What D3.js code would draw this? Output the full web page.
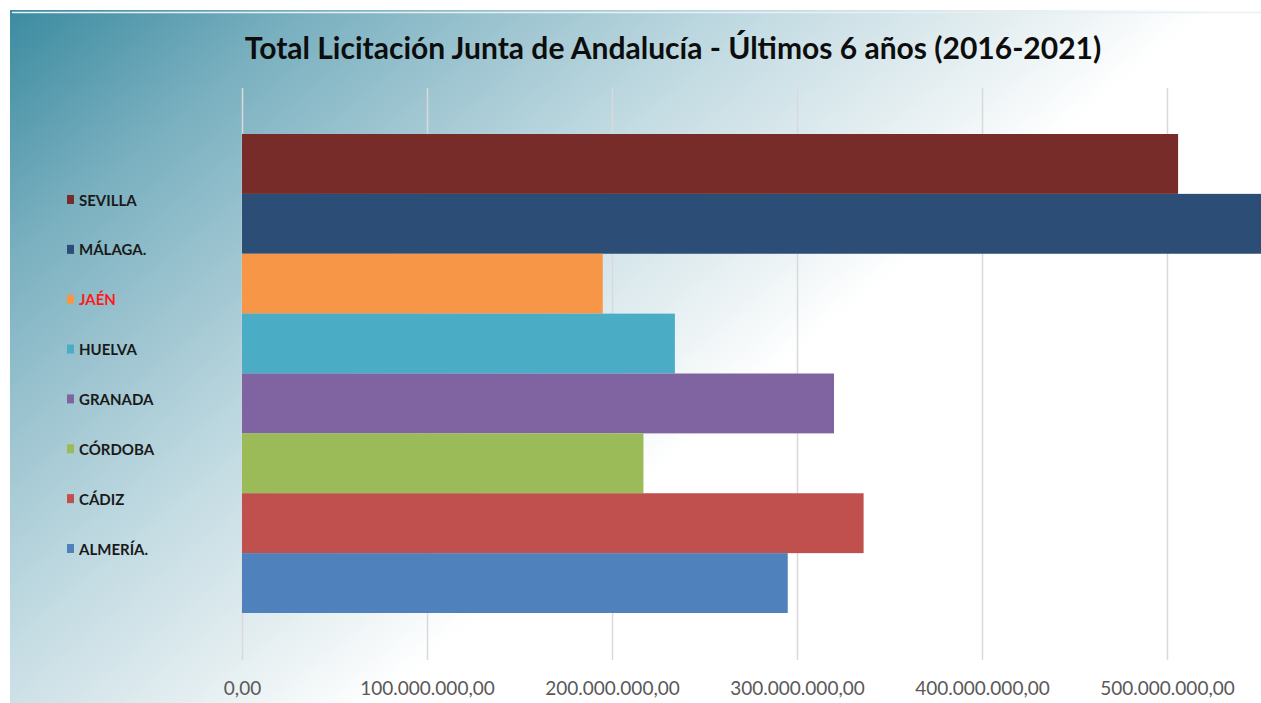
<!DOCTYPE html>
<html>
<head>
<meta charset="utf-8">
<script src="https://cdn.jsdelivr.net/npm/d3@7"></script>
<style>
  html, body { margin: 0; padding: 0; background: #ffffff; }
  svg { display: block; }
</style>
</head>
<body>
<div id="chart"></div>
<script>
// datos (orden de arriba a abajo)
var provincias = ["SEVILLA", "MÁLAGA.", "JAÉN", "HUELVA", "GRANADA", "CÓRDOBA", "CÁDIZ", "ALMERÍA."];
var importes = [506000000, 560000000, 195000000, 234000000, 320000000, 217000000, 336000000, 295000000];
var colores = ["#772c2a", "#2c4d75", "#f79646", "#4bacc6", "#8064a2", "#9bbb59", "#c0504d", "#4f81bd"];
var ticksX = [0, 100000000, 200000000, 300000000, 400000000, 500000000];

var width = 1261, height = 703;

var svg = d3.select("#chart")
    .append("svg")
    .attr("width", width)
    .attr("height", height);

// fondo con degradado
var defs = svg.append("defs");
var grad = defs.append("linearGradient")
    .attr("id", "fondo")
    .attr("gradientUnits", "userSpaceOnUse")
    .attr("x1", 10).attr("y1", 10)
    .attr("x2", 500).attr("y2", 600);
grad.append("stop").attr("offset", "0").attr("stop-color", "#3c8ba0");
grad.append("stop").attr("offset", "0.24").attr("stop-color", "#78afbf");
grad.append("stop").attr("offset", "0.46").attr("stop-color", "#a3c8d3");
grad.append("stop").attr("offset", "0.64").attr("stop-color", "#c4dce3");
grad.append("stop").attr("offset", "0.84").attr("stop-color", "#e4eef1");
grad.append("stop").attr("offset", "1").attr("stop-color", "#ffffff");

svg.append("rect")
    .attr("x", 10).attr("y", 10)
    .attr("width", width - 10).attr("height", height - 10)
    .attr("fill", "url(#fondo)");

// linea clara arriba
svg.append("line")
    .attr("x1", 12).attr("x2", width)
    .attr("y1", 12.5).attr("y2", 12.5)
    .attr("stroke", "#e6f0f3")
    .attr("stroke-width", 1.5);

var margin = {left: 242, top: 134, bottom: 613};

var x = d3.scaleLinear()
    .domain([0, 500000000])
    .range([margin.left, 1167]);

var y = d3.scaleBand()
    .domain(provincias)
    .range([margin.top, margin.bottom])
    .padding(0);

// rejilla
var grid = svg.append("g")
    .attr("transform", "translate(0,660)")
    .call(d3.axisBottom(x).tickValues(ticksX).tickSize(-572).tickFormat(""));
grid.select(".domain").remove();
grid.selectAll(".tick line").attr("stroke", "#d9d9d9").attr("stroke-width", 1.5);

// barras
svg.append("g")
    .selectAll("rect")
    .data(provincias)
    .enter()
    .append("rect")
    .attr("x", x(0))
    .attr("y", function (d) { return y(d); })
    .attr("width", function (d, i) { return x(importes[i]) - x(0); })
    .attr("height", y.bandwidth())
    .attr("fill", function (d, i) { return colores[i]; });

// etiquetas eje x
var fmt = function (v) {
    return d3.format(",.2f")(v).replace(/,/g, "#").replace(".", ",").replace(/#/g, ".");
};
var ejeX = svg.append("g")
    .attr("transform", "translate(0,678)")
    .call(d3.axisBottom(x).tickValues(ticksX).tickSize(0).tickFormat(fmt));
ejeX.select(".domain").remove();
ejeX.selectAll("text")
    .attr("font-family", "Lato, 'Open Sans', sans-serif")
    .attr("font-size", "19px")
    .attr("fill", "#595959");

// leyenda
var leyenda = svg.append("g");
var legY = d3.scalePoint()
    .domain(provincias)
    .range([200, 549]);
var item = leyenda.selectAll("g")
    .data(provincias)
    .enter()
    .append("g")
    .attr("transform", function (d) { return "translate(67," + legY(d) + ")"; });
item.append("rect")
    .attr("x", 0).attr("y", -5)
    .attr("width", 7).attr("height", 9)
    .attr("fill", function (d, i) { return colores[i]; });
item.append("text")
    .attr("x", 12).attr("y", 5.5)
    .attr("font-family", "Lato, 'Open Sans', sans-serif")
    .attr("font-weight", "bold")
    .attr("font-size", "15px")
    .attr("fill", function (d) { return d === "JAÉN" ? "#ff1a1a" : "#1a1a1a"; })
    .text(function (d) { return d; });

// titulo
svg.append("text")
    .attr("x", 673)
    .attr("y", 59)
    .attr("text-anchor", "middle")
    .attr("font-family", "Lato, 'Open Sans', sans-serif")
    .attr("font-weight", "bold")
    .attr("font-size", "30px")
    .attr("fill", "#0d0d0d")
    .text("Total Licitación Junta de Andalucía - Últimos 6 años (2016-2021)");
</script>
</body>
</html>
